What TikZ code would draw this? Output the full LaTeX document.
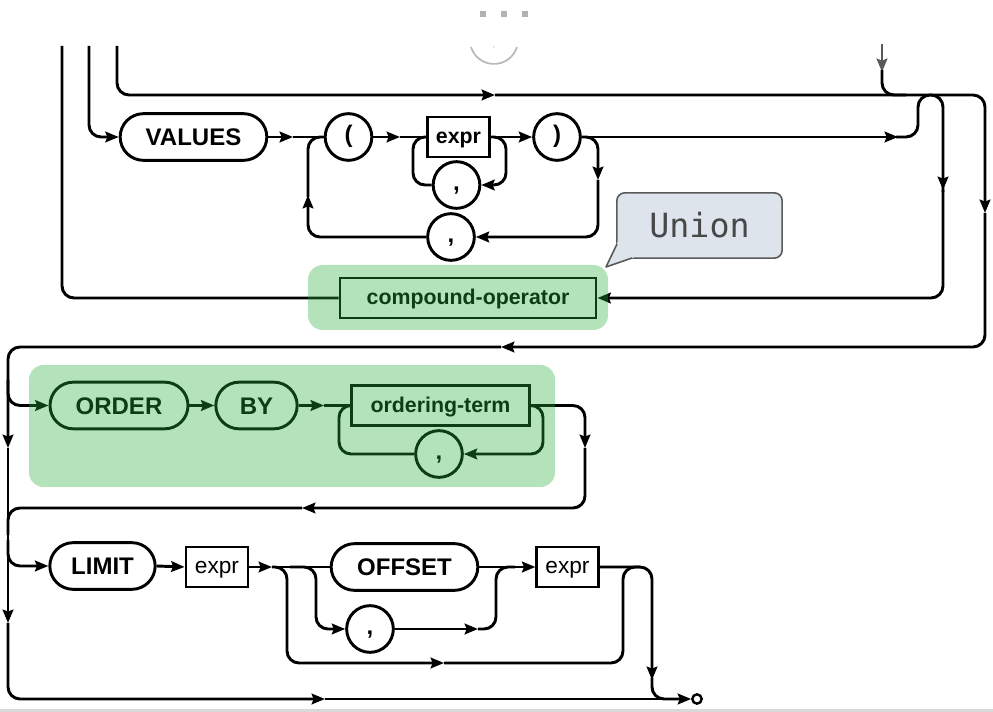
\documentclass[tikz,border=0pt]{standalone}
\usepackage{fontspec}
\setmainfont{Liberation Sans}
\newfontfamily\unionmono{DejaVu Sans Mono}
\usetikzlibrary{arrows.meta,shapes.misc}
\definecolor{hlc}{RGB}{40,175,60}
\definecolor{ufill}{RGB}{222,228,236}
\definecolor{uborder}{RGB}{90,90,90}
\definecolor{utext}{RGB}{72,72,72}
\newcommand\kwfont{\fontsize{18}{20}\selectfont\bfseries}
\newcommand\bxfont{\fontsize{16}{18}\selectfont\bfseries}
\newcommand\bxfontreg{\fontsize{17}{19}\selectfont}
\begin{document}
\begin{tikzpicture}[x=0.75pt,y=-0.75pt,
  >={Stealth[length=10pt,width=8pt,inset=1.5pt]},
  rail/.style={line width=2.2pt, rounded corners=9pt},
  kw/.style={rounded rectangle, draw, fill=white, line width=2.2pt, minimum height=35pt, inner sep=0pt, text height=13pt, text depth=0pt, font=\kwfont},
  circ/.style={circle, draw, fill=white, line width=2.2pt, minimum size=35pt, inner sep=0pt, text height=9pt, text depth=0pt, font=\kwfont},
  bx/.style={rectangle, draw, fill=white, line width=2.2pt, minimum height=30pt, inner sep=0pt, text height=10pt, text depth=0pt, font=\bxfont},
  hl/.style={fill=hlc, fill opacity=0.35},
  endc/.style={circle, draw, fill=white, line width=1.8pt, minimum size=7pt, inner sep=0pt}
]
\useasboundingbox (0,0) rectangle (993,712);

% ---------- nodes ----------
\node[kw, minimum width=110pt] (values) at (193.5,137) {VALUES};
\node[circ] (lp) at (348.5,137) {(};
\node[bx, minimum width=46pt] (expr1) at (458.5,137) {expr};
\node[circ] (c1) at (456.5,185) {,};
\node[circ] (rp) at (557,137) {)};
\node[circ] (c2) at (451,237) {,};
\node[bx, minimum width=192pt] (comp) at (468,298) {compound-operator};

\node[kw, minimum width=103.5pt] (order) at (119,405.5) {ORDER};
\node[kw, minimum width=61pt] (by) at (256.5,405.5) {BY};
\node[bx, minimum width=133pt] (ordterm) at (440.5,405.5) {ordering-term};
\node[circ] (c3) at (439,454) {,};

\node[kw, minimum width=79pt] (limit) at (102.5,566) {LIMIT};
\node[bx, minimum width=46.5pt, font=\bxfontreg] (expr2) at (217,567) {expr};
\node[kw, minimum width=110pt] (offset) at (404.5,567) {OFFSET};
\node[circ] (c4) at (370,629) {,};
\node[bx, minimum width=46pt, font=\bxfontreg] (expr3) at (567.5,567) {expr};
\node[endc] (fin) at (697,699) {};

% ---------- free ends ----------
\coordinate (t1) at (117,46);
\coordinate (t2) at (89,46);
\coordinate (t3) at (62,46);
\coordinate (tin) at (882,44);

% ---------- top block ----------
\draw[rail,->] (t1) -- (117,95) -- (495,95);
\draw[rail,->] (495,95) -- (985,95) -- (985,213);
\draw[rail,->] (985,213) -- (985,347) -- (501,347);
\draw[rail,->] (501,347) -- (8,347) -- (8,448);
\draw[rail,->] (8,448) -- (8,623);
\draw[rail,->] (8,623) -- (8,699) -- (325,699);
\draw[rail,->] (325,699) -- (fin.west);

\draw[rail,->,black!65] (tin) -- (882,72);
\draw[rail] (882,70) -- (882,95) -- (906,95);

\draw[rail,->] (t2) -- (89,137) -- (values.west);
\draw[rail] (t3) -- (62,298) -- (comp.west);

\draw[rail,->] (values.east) -- (293,137);
\draw[rail] (293,137) -- (lp.west);
\draw[rail,->] (c2.west) -- (308,237) -- (308,195);
\draw[rail] (308,197) -- (308,137) -- (lp.west);

\draw[rail,->] (lp.east) -- (400,137);
\draw[rail] (400,137) -- (expr1.west);
\draw[rail,->] (expr1.east) -- (506,137) -- (506,185) -- (c1.east);
\draw[rail] (c1.west) -- (413,185) -- (413,137) -- (expr1.west);
\draw[rail,->] (expr1.east) -- (rp.west);

\draw[rail,->] (rp.east) -- (898,137);
\draw[rail] (896,137) -- (918,137) -- (918,95) -- (943,95) -- (943,192);
\draw[rail,->] (943,180) -- (943,190);
\draw[rail,->] (943,190) -- (943,298) -- (comp.east);

\draw[rail,->] (rp.east) -- (598,137) -- (598,180);
\draw[rail,->] (598,180) -- (598,237) -- (c2.east);

% ---------- ORDER BY ----------
\draw[rail,->] (8,380) -- (8,405.5) -- (order.west);
\draw[rail,->] (order.east) -- (by.west);
\draw[rail,->] (by.east) -- (324,405.5);
\draw[rail] (324,405.5) -- (ordterm.west);
\draw[rail,->] (ordterm.east) -- (543,405.5) -- (543,454) -- (c3.east);
\draw[rail] (c3.west) -- (339,454) -- (339,405.5) -- (ordterm.west);
\draw[rail,->] (ordterm.east) -- (585,405.5) -- (585,448);
\draw[rail,->] (585,448) -- (585,508) -- (302,508);
\draw[rail] (302,508) -- (8,508) -- (8,535);

% ---------- LIMIT ----------
\draw[rail,->] (8,540) -- (8,566) -- (limit.west);
\draw[rail,->] (limit.east) -- (expr2.west);
\draw[rail,->] (expr2.east) -- (272,567);
\draw[rail] (272,567) -- (offset.west);
\draw[rail,->] (290,567) -- (316,567) -- (316,629) -- (c4.west);
\draw[rail,->] (c4.east) -- (478,629);
\draw[rail] (478,629) -- (496,629) -- (496,567) -- (515,567);
\draw[rail,->] (272,567) -- (287,567) -- (287,663) -- (444,663);
\draw[rail] (444,663) -- (623,663) -- (623,567) -- (640,567);
\draw[rail,->] (offset.east) -- (expr3.west);
\draw[rail,->] (expr3.east) -- (652,567) -- (652,680);
\draw[rail] (652,678) -- (652,699) -- (680,699);

% ---------- highlights ----------
\fill[hl, rounded corners=11pt] (308,265) rectangle (608,330);
\fill[hl, rounded corners=11pt] (29,365) rectangle (555,487);

% ---------- Union callout ----------
\node[rectangle, rounded corners=6pt, draw=uborder, fill=ufill, line width=1.2pt,
      minimum width=124pt, minimum height=49pt, text=utext,
      font=\unionmono\fontsize{25}{28}\selectfont] (union) at (699.5,225.5) {Union};
\fill[ufill] (617,243) -- (606,267) -- (633,258) -- (640,250) -- (622,236) -- cycle;
\draw[uborder, line width=1.2pt, line join=round] (617,244) -- (606,267) -- (632,258);

% ---------- faded top remnants ----------
\fill[gray!60] (480,11) rectangle (486,17);
\fill[gray!60] (501,11) rectangle (507,17);
\fill[gray!60] (522,11) rectangle (528,17);
\draw[gray!55, line width=1.3pt] (471,47) arc[start angle=197, end angle=343, radius=18pt];
\node[text=gray!50, font=\fontsize{7}{8}\selectfont] (fadecomma) at (494,48) {,};

% bottom rule
\fill[gray!30] (0,709) rectangle (993,712);
\end{tikzpicture}
\end{document}
